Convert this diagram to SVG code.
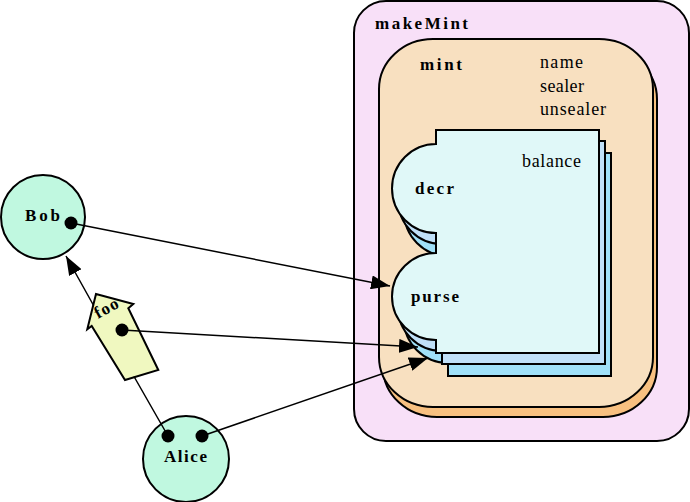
<svg xmlns="http://www.w3.org/2000/svg" width="690" height="502" viewBox="0 0 690 502">
<style>
.b{stroke:#000;stroke-width:2}
.lbl{font-family:"Liberation Serif",serif;font-weight:bold;font-size:17px;fill:#000}
.reg{font-family:"Liberation Serif",serif;font-size:18px;fill:#000}
.con{fill:none;stroke:#000;stroke-width:1.5}
.dot{fill:#000}
</style>
<defs>
<marker id="ah" markerUnits="userSpaceOnUse" markerWidth="20" markerHeight="14" refX="19" refY="7" orient="auto">
<path d="M0,0 L19,7 L0,14 Z" fill="#000"/>
</marker>
<path id="card" d="M0,0 H163 V223 H0 V210 A44,43.5 0 0 1 0,123 V103 A44,44.5 0 0 1 0,14 Z"/>
</defs>
<rect width="690" height="502" fill="#fff"/>
<g id="makeMint">
<rect class="b" x="354" y="1" width="335" height="440" rx="32" ry="32" fill="#F8E0F8"/>
<text class="lbl" x="375" y="29" textLength="93" lengthAdjust="spacing">makeMint</text>
</g>
<g id="mint">
<rect class="b" x="383" y="49" width="274" height="368" rx="54" ry="50" fill="#F8C080"/>
<rect class="b" x="379" y="39" width="274" height="368" rx="54" ry="50" fill="#F8E0C0"/>
<text class="lbl" x="420" y="70" textLength="42" lengthAdjust="spacing">mint</text>
<text class="reg" x="540" y="68" textLength="43" lengthAdjust="spacing">name</text>
<text class="reg" x="540" y="92" textLength="44" lengthAdjust="spacing">sealer</text>
<text class="reg" x="540" y="115" textLength="66" lengthAdjust="spacing">unsealer</text>
</g>
<g id="purse">
<use href="#card" x="448" y="153" class="b" fill="#A0E0F8"/>
<use href="#card" x="442" y="141" class="b" fill="#C0E0F8"/>
<use href="#card" x="436" y="130" class="b" fill="#E0F8F8"/>
<text class="reg" x="522" y="167" textLength="59" lengthAdjust="spacing">balance</text>
<text class="lbl" x="415" y="194" textLength="39" lengthAdjust="spacing">decr</text>
<text class="lbl" x="411" y="302" textLength="48" lengthAdjust="spacing">purse</text>
</g>
<g id="Bob">
<circle class="b" cx="43" cy="217" r="42" fill="#C0F8E0"/>
<text class="lbl" x="25" y="221" textLength="35" lengthAdjust="spacing">Bob</text>
<circle class="dot" cx="71" cy="223" r="6.5"/>
</g>
<g id="Alice">
<circle class="b" cx="186" cy="459" r="43" fill="#C0F8E0"/>
<text class="lbl" x="164" y="462" textLength="43" lengthAdjust="spacing">Alice</text>
<circle class="dot" cx="168" cy="436" r="6.5"/>
<circle class="dot" cx="202" cy="436" r="6.5"/>
</g>
<g id="foo">
<polygon class="b" points="96,294 133.3,304 128.3,308.3 158.3,370 125,380 91.7,326 87.3,329.3" fill="#F0F8C0"/>
<text class="lbl" transform="translate(98,319) rotate(-29)" x="0" y="0" textLength="25" lengthAdjust="spacing">foo</text>
<circle class="dot" cx="122" cy="330" r="6.5"/>
</g>
<g id="connectors">
<path class="con" d="M168,436 L134,376.5 M93.6,305.5 L66,256" marker-end="url(#ah)"/>
<path class="con" d="M71,223 L390,286" marker-end="url(#ah)"/>
<path class="con" d="M122,330 L418,347" marker-end="url(#ah)"/>
<path class="con" d="M202,436 L428,358" marker-end="url(#ah)"/>
</g>
</svg>
